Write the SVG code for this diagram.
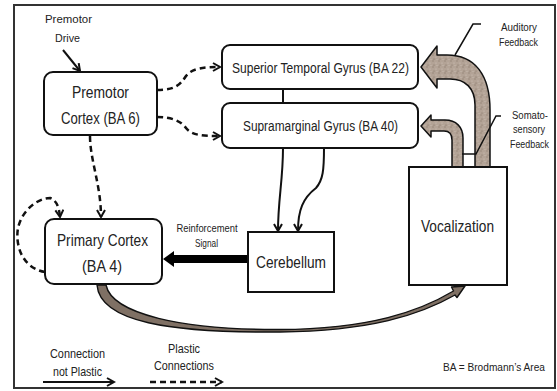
<svg xmlns="http://www.w3.org/2000/svg" width="557" height="391" viewBox="0 0 557 391">
  <defs>
    <style>
      text { font-family: "Liberation Sans", Arial, sans-serif; fill: #222; text-anchor: middle; }
      .box { fill: #fff; stroke: #111; stroke-width: 2; }
      .big { font-size: 17px; }
      .mid { font-size: 14px; }
      .sm { font-size: 10.5px; }
      .leg { font-size: 13px; }
      .solid { fill: none; stroke: #111; stroke-width: 2; marker-end: url(#chev); }
      .dash { fill: none; stroke: #111; stroke-width: 2.5; stroke-dasharray: 6 4; marker-end: url(#chev); }
      .fb { fill: url(#speckle); stroke: #111; stroke-width: 1.5; stroke-linejoin: round; }
      .ptr { fill: none; stroke: #111; stroke-width: 1.5; }
    </style>
    <marker id="chev" viewBox="0 0 10 10" refX="8" refY="5" markerWidth="10" markerHeight="10" markerUnits="userSpaceOnUse" orient="auto">
      <path d="M1,1 L8,5 L1,9" fill="none" stroke="#111" stroke-width="2"/>
    </marker>
    <pattern id="speckle" width="6" height="6" patternUnits="userSpaceOnUse">
      <rect width="6" height="6" fill="#b3a396"/>
      <circle cx="1" cy="1" r="0.7" fill="#8f7f72"/>
      <circle cx="4" cy="3" r="0.6" fill="#d2c6bc"/>
      <circle cx="2" cy="5" r="0.6" fill="#7f6f63"/>
      <circle cx="5" cy="5.5" r="0.5" fill="#cfc3b8"/>
    </pattern>
  </defs>

  <rect x="0" y="0" width="557" height="391" fill="#fff"/>
  <rect x="14" y="5" width="541" height="383" fill="#fff" stroke="#333" stroke-width="2"/>

  <g id="connectors">
    <!-- premotor drive -->
    <path class="solid" d="M63,50 L80,71"/>
    <!-- premotor to STG / SMG -->
    <path class="dash" d="M157,90 C175,90 180,85 186,76 C192,68 205,67 220,67"/>
    <path class="dash" d="M157,117 C170,117 180,120 186,128 C192,136 205,136 220,136"/>
    <!-- premotor to primary -->
    <path class="dash" d="M90,136 C90,160 101,185 101,217"/>
    <!-- self loop -->
    <path class="dash" d="M45,272 C22,268 15,245 18,228 C22,210 38,198 50,198 C56,200 59,206 60,217"/>
    <!-- STG - SMG -->
    <path d="M283,89 L283,103" stroke="#111" stroke-width="2"/>
    <!-- SMG to cerebellum -->
    <path class="solid" d="M283,148 C283,180 278,200 278,231"/>
    <path class="solid" d="M324,148 C324,170 323,180 316,188 C303,198 298,210 298,231"/>
    <!-- reinforcement -->
    <path d="M248,255 L174,255 L174,251 L163,259 L174,267 L174,263 L248,263 Z" fill="#000"/>
    <!-- primary to vocalization -->
    <path d="M97,285 C100,322 170,333 280,332 C370,331 420,315 455,295 L457,297.5 L465,286 L451.5,287 L453.5,291 C420,311 370,329 280,329.5 C182,330 112,314 106,285 Z" fill="#7f7064" stroke="#111" stroke-width="1.4" stroke-linejoin="round"/>
    <!-- auditory feedback arrow -->
    <path class="fb" d="M421,67 L437,46 L437,55 L447,55 C475,55 490,75 490,110 L490,167 L475,167 L475,105 C475,88 465,79 450,79 L437,79 L437,88 Z"/>
    <!-- somatosensory feedback arrow -->
    <path class="fb" d="M421,126 L431,115 L431,120 L445,120 C456,120 463,127 463,138 L463,167 L452,167 L452,140 C452,134 449,131 444,131 L431,131 L431,137 Z"/>
    <!-- label pointers -->
    <path class="ptr" d="M481,24 L473,24 L455,55"/>
    <path class="ptr" d="M501,116 L496,116 L476,154 L462,154"/>
    <!-- legend arrows -->
    <path class="solid" d="M43,382 L114,382" stroke-width="2.5"/>
    <path class="dash" d="M150,382 L222,382"/>
  </g>

  <g id="premotor-drive">
    <text class="sm" x="68.5" y="23" textLength="47" lengthAdjust="spacingAndGlyphs">Premotor</text>
    <text class="sm" x="67.5" y="42" textLength="25" lengthAdjust="spacingAndGlyphs">Drive</text>
  </g>

  <g id="premotor-cortex">
    <rect class="box" x="44" y="72" width="113" height="63" rx="9"/>
    <text class="big" x="100.5" y="98" textLength="57" lengthAdjust="spacingAndGlyphs">Premotor</text>
    <text class="big" x="100.5" y="124" textLength="79" lengthAdjust="spacingAndGlyphs">Cortex (BA 6)</text>
  </g>

  <g id="stg">
    <rect class="box" x="222" y="45" width="196" height="44" rx="8"/>
    <text class="mid" x="320.5" y="73" textLength="177" lengthAdjust="spacingAndGlyphs">Superior Temporal Gyrus (BA 22)</text>
  </g>

  <g id="smg">
    <rect class="box" x="222" y="103" width="196" height="45" rx="8"/>
    <text class="mid" x="320.5" y="131" textLength="155" lengthAdjust="spacingAndGlyphs">Supramarginal Gyrus (BA 40)</text>
  </g>

  <g id="primary-cortex">
    <rect class="box" x="45" y="219" width="117" height="65" rx="9"/>
    <text class="big" x="102.5" y="246" textLength="91" lengthAdjust="spacingAndGlyphs">Primary Cortex</text>
    <text class="big" x="102" y="272" textLength="40" lengthAdjust="spacingAndGlyphs">(BA 4)</text>
  </g>

  <g id="reinforcement-label">
    <text class="sm" x="207" y="232" textLength="61" lengthAdjust="spacingAndGlyphs">Reinforcement</text>
    <text class="sm" x="206.5" y="247" textLength="23" lengthAdjust="spacingAndGlyphs">Signal</text>
  </g>

  <g id="cerebellum">
    <rect class="box" x="248" y="232" width="86" height="60"/>
    <text class="big" x="291" y="268" textLength="70" lengthAdjust="spacingAndGlyphs">Cerebellum</text>
  </g>

  <g id="vocalization">
    <rect class="box" x="409" y="167" width="98" height="118"/>
    <text class="big" x="457.5" y="232" textLength="73" lengthAdjust="spacingAndGlyphs">Vocalization</text>
  </g>

  <g id="auditory-label">
    <text class="sm" x="519" y="31" textLength="36" lengthAdjust="spacingAndGlyphs">Auditory</text>
    <text class="sm" x="518.5" y="46" textLength="39" lengthAdjust="spacingAndGlyphs">Feedback</text>
  </g>

  <g id="somato-label">
    <text class="sm" x="530" y="119" textLength="36" lengthAdjust="spacingAndGlyphs">Somato-</text>
    <text class="sm" x="529" y="133" textLength="32" lengthAdjust="spacingAndGlyphs">sensory</text>
    <text class="sm" x="529.5" y="148" textLength="39" lengthAdjust="spacingAndGlyphs">Feedback</text>
  </g>

  <g id="legend">
    <text class="leg" x="77.5" y="358" textLength="55" lengthAdjust="spacingAndGlyphs">Connection</text>
    <text class="leg" x="77.5" y="376" textLength="49" lengthAdjust="spacingAndGlyphs">not Plastic</text>
    <text class="leg" x="184" y="353" textLength="32" lengthAdjust="spacingAndGlyphs">Plastic</text>
    <text class="leg" x="184" y="370" textLength="60" lengthAdjust="spacingAndGlyphs">Connections</text>
    <text x="494" y="371" font-size="11" textLength="102" lengthAdjust="spacingAndGlyphs">BA = Brodmann’s Area</text>
  </g>
</svg>
